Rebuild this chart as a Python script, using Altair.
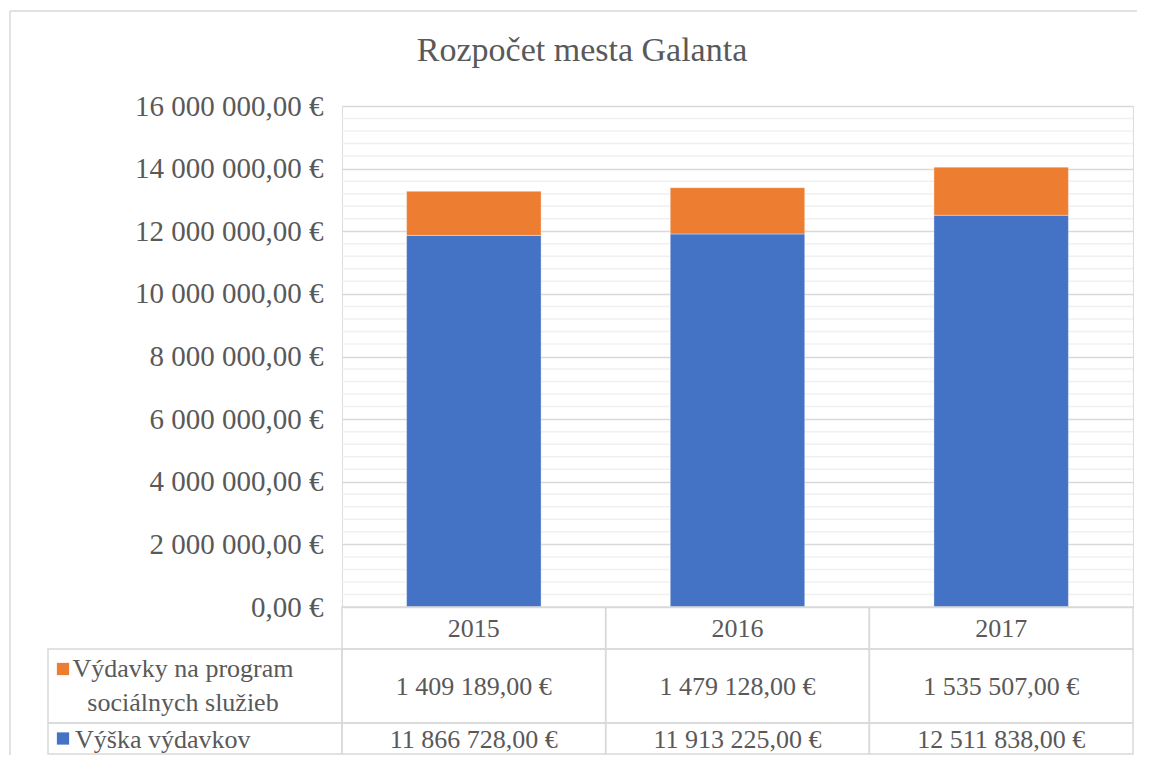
import altair as alt
import pandas as pd

# ---- data ----
years = ["2015", "2016", "2017"]
series_names = ["Výdavky na program sociálnych služieb", "Výška výdavkov"]
social = [1409189, 1479128, 1535507]
total_exp = [11866728, 11913225, 12511838]
title_text = "Rozpočet mesta Galanta"

rows = []
for i, y in enumerate(years):
    rows.append({"year": y, "series": series_names[1], "value": total_exp[i], "ord": 0})
    rows.append({"year": y, "series": series_names[0], "value": social[i], "ord": 1})
df = pd.DataFrame(rows)
df_soc = df[df["series"] == series_names[0]]
df_tot = df[df["series"] == series_names[1]]
df_years = pd.DataFrame({"year": years})

# ---- layout constants ----
W, H = 791, 501
PAD_L, PAD_T, PAD_R, PAD_B = 334, 98, 4, 148
HDR_B, R1_B, R2_B = 543, 617, 648
LAB_L = -294
FONT = "Liberation Serif"
TXT = "#595959"
GRID = "#D9D9D9"
MINOR = "#F0F0F0"
BLUE, ORANGE = "#4472C4", "#ED7D31"

y_scale = alt.Scale(domain=[0, 16000000], nice=False, zero=True)
major = list(range(0, 16000001, 2000000))
minor = [v for v in range(0, 16000001, 400000) if v % 2000000 != 0]

xbar = alt.X("year:N", sort=years, axis=None,
             scale=alt.Scale(paddingInner=0.49, paddingOuter=0.245))


def xtab():
    return alt.X("year:N", sort=years, axis=None,
                 scale=alt.Scale(paddingInner=0, paddingOuter=0))


one = pd.DataFrame({"a": [0]})

# outer frame (top and left edges only; kept inside the drawing)
frame_top = alt.Chart(one).mark_rule(color=GRID, strokeWidth=1.5).encode(
    x=alt.value(-332), x2=alt.value(W + PAD_R), y=alt.value(-95))
frame_left = alt.Chart(one).mark_rule(color=GRID, strokeWidth=1.5).encode(
    x=alt.value(-332), y=alt.value(-95), y2=alt.value(H + PAD_B))

minor_rules = alt.Chart(pd.DataFrame({"v": minor})).mark_rule(
    color=MINOR, strokeWidth=1.5
).encode(y=alt.Y("v:Q", scale=y_scale), x=alt.value(0), x2=alt.value(W))

bars = alt.Chart(df).mark_bar(stroke="white", strokeWidth=0.6, strokeOpacity=0.6).encode(
    x=xbar,
    y=alt.Y("value:Q", stack="zero", scale=y_scale,
            axis=alt.Axis(values=major, format="$,.2f", title=None, ticks=False,
                          domain=False, grid=True, gridColor=GRID, gridWidth=1.5,
                          labelFont=FONT, labelFontSize=29, labelColor=TXT,
                          labelPadding=19, labelLimit=400)),
    color=alt.Color("series:N", scale=alt.Scale(domain=series_names, range=[ORANGE, BLUE]),
                    legend=None),
    order=alt.Order("ord:Q", sort="ascending"),
)

title = alt.Chart(pd.DataFrame({"t": [title_text]})).mark_text(
    font=FONT, fontSize=34, color=TXT, align="center", baseline="alphabetic"
).encode(text="t:N", x=alt.value(240), y=alt.value(-45))

# table cells
cell_kw = dict(fill=None, stroke=GRID, strokeWidth=1.5)
hdr_cells = alt.Chart(df_years).mark_rect(**cell_kw).encode(
    x=xtab(), y=alt.value(H), y2=alt.value(HDR_B))
r1_cells = alt.Chart(df_years).mark_rect(**cell_kw).encode(
    x=xtab(), y=alt.value(HDR_B), y2=alt.value(R1_B))
r2_cells = alt.Chart(df_years).mark_rect(**cell_kw).encode(
    x=xtab(), y=alt.value(R1_B), y2=alt.value(R2_B))
lab1_cell = alt.Chart(one).mark_rect(**cell_kw).encode(
    x=alt.value(LAB_L), x2=alt.value(0), y=alt.value(HDR_B), y2=alt.value(R1_B))
lab2_cell = alt.Chart(one).mark_rect(**cell_kw).encode(
    x=alt.value(LAB_L), x2=alt.value(0), y=alt.value(R1_B), y2=alt.value(R2_B))

txt_kw = dict(font=FONT, fontSize=26, color=TXT, align="center", baseline="middle")
hdr_text = alt.Chart(df_years).mark_text(**txt_kw).encode(
    x=xtab(), y=alt.value((H + HDR_B) / 2 + 1), text="year:N")
r1_text = alt.Chart(df_soc).mark_text(**txt_kw).encode(
    x=xtab(), y=alt.value((HDR_B + R1_B) / 2 + 1), text=alt.Text("value:Q", format="$,.2f"))
r2_text = alt.Chart(df_tot).mark_text(**txt_kw).encode(
    x=xtab(), y=alt.value((R1_B + R2_B) / 2 + 1), text=alt.Text("value:Q", format="$,.2f"))

lab1_text = alt.Chart(pd.DataFrame({"t": [["Výdavky na program", "sociálnych služieb"]]})).mark_text(
    font=FONT, fontSize=26, color=TXT, align="center", baseline="alphabetic", lineHeight=34
).encode(text="t", x=alt.value(183 - 342), y=alt.value((HDR_B + R1_B) / 2 - 9))
lab2_text = alt.Chart(pd.DataFrame({"t": [series_names[1]]})).mark_text(
    font=FONT, fontSize=26, color=TXT, align="left", baseline="middle"
).encode(text="t:N", x=alt.value(75 - 342), y=alt.value((R1_B + R2_B) / 2 + 1))

sq1 = alt.Chart(one).mark_square(size=150, color=ORANGE, opacity=1).encode(
    x=alt.value(63 - 342), y=alt.value((HDR_B + R1_B) / 2 - 17))
sq2 = alt.Chart(one).mark_square(size=150, color=BLUE, opacity=1).encode(
    x=alt.value(63 - 342), y=alt.value((R1_B + R2_B) / 2))

chart = alt.layer(
    frame_top, frame_left, minor_rules, bars, title,
    hdr_cells, r1_cells, r2_cells, lab1_cell, lab2_cell,
    hdr_text, r1_text, r2_text, lab1_text, lab2_text, sq1, sq2,
).resolve_scale(x="independent").properties(
    width=W, height=H,
    autosize=alt.AutoSizeParams(type="none"),
    padding={"left": PAD_L, "top": PAD_T, "right": PAD_R, "bottom": PAD_B},
).configure_view(stroke=None).configure(
    locale={"number": {"decimal": ",", "thousands": " ", "grouping": [3],
                       "currency": ["", " €"]}}
)

chart.save("out.html", embed_options={"renderer": "svg", "actions": False})
